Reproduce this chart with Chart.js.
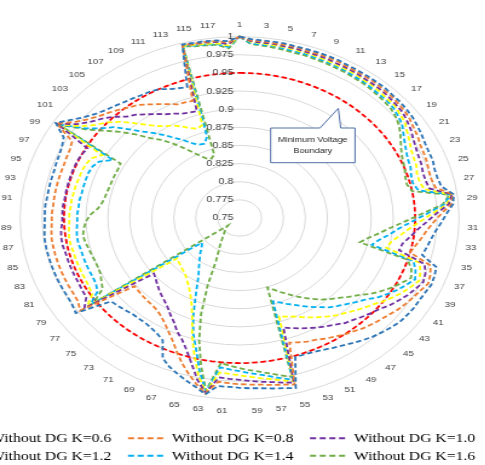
<!DOCTYPE html>
<html>
<head>
<meta charset="utf-8">
<script src="https://cdn.jsdelivr.net/npm/chart.js@4/dist/chart.umd.min.js"></script>
<style>
  html, body { margin: 0; padding: 0; background: #fff; overflow: hidden; }
  #wrap { position: absolute; left: 0; top: 0; width: 401px; height: 465px; transform: scaleX(1.21); transform-origin: 0 0; }
</style>
</head>
<body>
<div id="wrap"><canvas id="chart" width="401" height="465"></canvas></div>
<script>
// bus numbers (categories)
const buses = [1,2,3,4,5,6,7,8,9,10,11,12,13,14,15,16,17,18,19,20,21,22,23,24,25,26,27,28,29,30,
  31,32,33,34,35,36,37,38,39,40,41,42,43,44,45,46,47,48,49,50,51,52,53,54,55,56,57,58,59,60,
  61,62,63,64,65,66,67,68,69,70,71,72,73,74,75,76,77,78,79,80,81,82,83,84,85,86,87,88,89,90,
  91,92,93,94,95,96,97,98,99,100,101,102,103,104,105,106,107,108,109,110,111,112,113,114,115,116,117,118];

// bus voltages (p.u.) without DG, per load factor K
const k06 = [1,.997,.996,.996,.996,.995,.995,.995,.995,.995,
  .994,.994,.994,.994,.994,.993,.993,.992,.991,.989,
  .987,.985,.984,.984,.982,.982,.984,.996,.994,.986,
  .980,.974,.970,.967,.964,.984,.986,.987,.985,.984,
  .984,.983,.982,.979,.976,.973,.969,.965,.961,.958,
  .955,.953,.952,.952,.993,.990,.988,.986,.985,.984,
  .983,.983,.996,.988,.982,.976,.970,.962,.940,.935,
  .932,.930,.930,.930,.932,.934,.936,.978,.975,.974,
  .974,.974,.974,.974,.974,.974,.974,.973,.972,.972,
  .972,.971,.971,.971,.971,.972,.973,.975,.979,.997,
  .985,.975,.968,.963,.960,.957,.955,.953,.952,.950,
  .945,.942,.940,.998,.997,.997,.996,.994];
const k08 = [1,.995,.995,.994,.994,.994,.993,.993,.993,.993,
  .992,.992,.992,.992,.991,.991,.990,.989,.987,.984,
  .982,.979,.978,.977,.975,.975,.977,.995,.992,.980,
  .971,.964,.959,.954,.950,.977,.981,.983,.979,.976,
  .973,.970,.966,.963,.960,.957,.953,.950,.946,.943,
  .939,.937,.934,.931,.988,.985,.983,.981,.980,.979,
  .978,.977,.995,.984,.972,.960,.947,.935,.926,.918,
  .912,.908,.906,.905,.904,.903,.902,.972,.967,.966,
  .966,.966,.966,.966,.966,.966,.966,.965,.964,.964,
  .963,.963,.963,.963,.963,.963,.964,.965,.968,.996,
  .980,.970,.963,.958,.953,.948,.944,.938,.932,.927,
  .922,.921,.920,.997,.996,.996,.995,.992];
const k10 = [1,.994,.993,.993,.992,.992,.991,.991,.991,.990,
  .990,.990,.989,.989,.989,.988,.987,.986,.983,.980,
  .976,.973,.971,.970,.968,.968,.970,.994,.989,.974,
  .963,.953,.946,.939,.937,.970,.975,.977,.973,.969,
  .964,.959,.953,.949,.945,.941,.938,.933,.929,.925,
  .921,.917,.913,.909,.985,.982,.979,.977,.975,.973,
  .972,.971,.994,.978,.958,.942,.930,.922,.912,.905,
  .898,.893,.889,.885,.881,.877,.874,.966,.956,.955,
  .954,.954,.954,.954,.954,.955,.955,.954,.952,.952,
  .952,.951,.951,.951,.951,.951,.951,.950,.948,.995,
  .975,.965,.958,.950,.940,.935,.928,.922,.916,.912,
  .908,.906,.905,.997,.995,.995,.994,.990];
const k12 = [1,.993,.992,.991,.991,.990,.990,.989,.989,.988,
  .988,.988,.987,.987,.986,.985,.985,.982,.980,.975,
  .971,.967,.965,.964,.961,.961,.964,.993,.987,.969,
  .955,.943,.934,.926,.922,.964,.969,.972,.967,.962,
  .956,.950,.943,.938,.933,.928,.924,.919,.914,.909,
  .904,.899,.896,.893,.983,.979,.975,.972,.969,.967,
  .965,.964,.993,.972,.946,.922,.898,.882,.871,.863,
  .857,.852,.848,.846,.844,.842,.840,.962,.948,.946,
  .945,.945,.945,.945,.945,.946,.946,.945,.944,.944,
  .943,.943,.942,.942,.941,.941,.940,.938,.929,.994,
  .970,.958,.950,.940,.928,.917,.908,.902,.898,.892,
  .886,.882,.885,.996,.994,.993,.992,.988];
const k14 = [1,.991,.990,.990,.989,.988,.988,.987,.987,.986,
  .986,.985,.985,.984,.983,.983,.982,.979,.976,.970,
  .965,.961,.958,.957,.954,.953,.957,.992,.984,.963,
  .946,.932,.922,.912,.905,.957,.963,.967,.961,.955,
  .948,.941,.932,.926,.920,.915,.910,.903,.897,.891,
  .885,.880,.875,.871,.981,.976,.971,.967,.964,.961,
  .959,.957,.992,.966,.938,.918,.895,.872,.855,.842,
  .834,.827,.821,.816,.811,.807,.805,.958,.941,.937,
  .936,.936,.936,.936,.936,.937,.937,.936,.935,.935,
  .934,.934,.933,.933,.933,.933,.932,.928,.915,.993,
  .965,.950,.940,.925,.912,.902,.892,.882,.874,.866,
  .861,.860,.868,.996,.993,.992,.991,.986];
const k16 = [1,.990,.989,.988,.987,.986,.986,.985,.985,.984,
  .984,.983,.983,.982,.981,.980,.979,.976,.972,.966,
  .960,.955,.952,.950,.947,.946,.950,.991,.982,.957,
  .938,.922,.910,.899,.891,.950,.958,.962,.955,.948,
  .940,.932,.922,.915,.908,.902,.896,.889,.882,.875,
  .868,.862,.856,.851,.977,.972,.967,.963,.960,.957,
  .954,.951,.991,.958,.925,.890,.850,.815,.802,.794,
  .787,.782,.778,.775,.772,.770,.767,.953,.934,.930,
  .926,.925,.925,.926,.927,.929,.930,.928,.925,.920,
  .912,.908,.906,.905,.904,.904,.904,.904,.905,.992,
  .962,.945,.930,.915,.900,.890,.878,.866,.855,.846,
  .840,.838,.842,.995,.992,.991,.990,.984];
// minimum voltage boundary
const boundary = [.95,.95,.95,.95,.95,.95,.95,.95,.95,.95,.95,.95,.95,.95,.95,.95,.95,.95,.95,.95,
  .95,.95,.95,.95,.95,.95,.95,.95,.95,.95,.95,.95,.95,.95,.95,.95,.95,.95,.95,.95,
  .95,.95,.95,.95,.95,.95,.95,.95,.95,.95,.95,.95,.95,.95,.95,.95,.95,.95,.95,.95,
  .95,.95,.95,.95,.95,.95,.95,.95,.95,.95,.95,.95,.95,.95,.95,.95,.95,.95,.95,.95,
  .95,.95,.95,.95,.95,.95,.95,.95,.95,.95,.95,.95,.95,.95,.95,.95,.95,.95,.95,.95,
  .95,.95,.95,.95,.95,.95,.95,.95,.95,.95,.95,.95,.95,.95,.95,.95,.95,.95];

const tickValues = [0.75, 0.775, 0.8, 0.825, 0.85, 0.875, 0.9, 0.925, 0.95, 0.975, 1];
const tickLabels = ['0.75', '0.775', '0.8', '0.825', '0.85', '0.875', '0.9', '0.925', '0.95', '0.975', '1'];
const seriesNames = ['Without DG K=0.6', 'Without DG K=0.8', 'Without DG K=1.0',
  'Without DG K=1.2', 'Without DG K=1.4', 'Without DG K=1.6'];
const colors = ['#2e75b6', '#ed7d31', '#7030a0', '#ffff00', '#00b0f0', '#70ad47'];

function ds(label, data, color) {
  return { label, data, borderColor: color, backgroundColor: color, fill: false,
    borderWidth: 1.8, borderDash: [4.5, 2.5], pointRadius: 0 };
}

// axis numbers, callout and legend drawn on the canvas
const extras = {
  id: 'extras',
  afterDatasetsDraw(chart) {
    const ctx = chart.ctx;
    const r = chart.scales.r;
    ctx.save();
    ctx.setLineDash([]);

    // radial tick labels, left of the vertical axis like Excel
    ctx.font = '9px "Liberation Sans"';
    ctx.fillStyle = '#404040';
    ctx.textAlign = 'right';
    ctx.textBaseline = 'middle';
    tickValues.forEach((v, i) => {
      ctx.fillText(tickLabels[i], r.xCenter - 5, r.yCenter - r.getDistanceFromCenterForValue(v));
    });

    // callout
    ctx.beginPath();
    ctx.moveTo(223.7, 128);
    ctx.lineTo(264.5, 128);
    ctx.lineTo(279.6, 108.3);
    ctx.lineTo(281.6, 128);
    ctx.lineTo(293.4, 128);
    ctx.lineTo(293.4, 162.7);
    ctx.lineTo(223.7, 162.7);
    ctx.closePath();
    ctx.fillStyle = '#fff';
    ctx.fill();
    ctx.strokeStyle = '#4f6ea8';
    ctx.lineWidth = 1;
    ctx.stroke();
    ctx.fillStyle = '#262626';
    ctx.textAlign = 'center';
    ctx.font = '7.5px "Liberation Sans"';
    ctx.fillText('Minimum Voltage', 258.5, 139.5);
    ctx.fillText('Boundary', 258.5, 151);

    // legend, two rows of three
    const colX = [-44.6, 105.8, 256.2];
    const rowY = [438.3, 455.7];
    ctx.font = '13px "Liberation Serif"';
    ctx.textAlign = 'left';
    seriesNames.forEach((name, i) => {
      const x = colX[i % 3], y = rowY[Math.floor(i / 3)];
      ctx.strokeStyle = colors[i];
      ctx.lineWidth = 2;
      ctx.setLineDash([5, 3]);
      ctx.beginPath();
      ctx.moveTo(x, y);
      ctx.lineTo(x + 30.6, y);
      ctx.stroke();
      ctx.setLineDash([]);
      ctx.fillStyle = '#000';
      ctx.fillText(name, x + 36.3, y + 0.5);
    });
    ctx.restore();
  }
};

new Chart(document.getElementById('chart'), {
  type: 'radar',
  data: {
    labels: buses,
    datasets: [
      ds(seriesNames[0], k06, colors[0]),
      ds(seriesNames[1], k08, colors[1]),
      ds(seriesNames[2], k10, colors[2]),
      ds(seriesNames[3], k12, colors[3]),
      ds(seriesNames[4], k14, colors[4]),
      ds(seriesNames[5], k16, colors[5]),
      ds('Minimum Voltage Boundary', boundary, '#ff0000')
    ]
  },
  options: {
    responsive: false,
    animation: false,
    layout: { padding: { left: 0, right: 3, top: 21, bottom: 48 } },
    plugins: { legend: { display: false }, tooltip: { enabled: false } },
    elements: { line: { tension: 0 } },
    scales: {
      r: {
        min: 0.75,
        max: 1,
        ticks: { stepSize: 0.025, display: false },
        grid: { circular: true, color: '#d9d9d9', lineWidth: 1 },
        angleLines: { display: false },
        pointLabels: {
          padding: 7,
          color: '#404040',
          font: { family: 'Liberation Sans', size: 8 },
          callback: (label, i) => (i % 2 === 0 ? String(label) : '')
        }
      }
    }
  },
  plugins: [extras]
});
</script>
</body>
</html>
